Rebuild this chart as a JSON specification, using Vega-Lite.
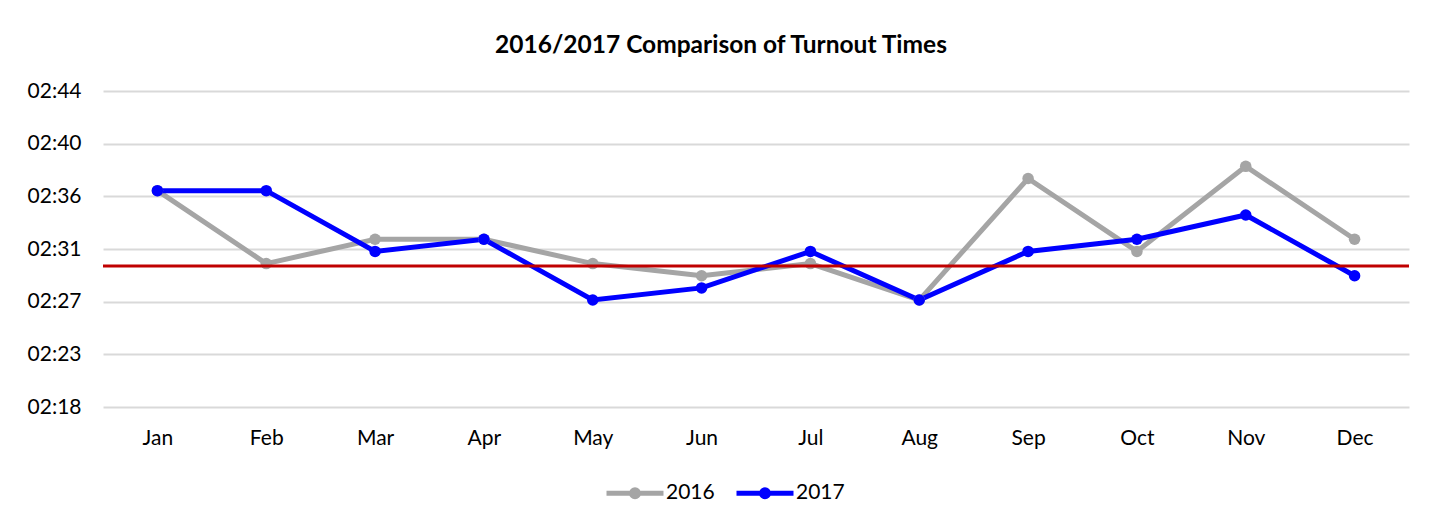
{
  "$schema": "https://vega.github.io/schema/vega-lite/v6.json",
  "autosize": {"type": "none"},
  "width": 1306,
  "height": 316,
  "padding": {"left": 103, "top": 91, "right": 33, "bottom": 120},
  "background": "white",
  "config": {
    "font": "Lato",
    "view": {"stroke": null},
    "axis": {"labelFont": "Lato", "labelFontSize": 21, "labelColor": "#000000", "ticks": false, "domain": false, "gridColor": "#D9D9D9", "gridWidth": 2, "title": null}
  },
  "title": {"text": "2016/2017 Comparison of Turnout Times", "font": "Lato", "fontSize": 24.5, "fontWeight": "bold", "color": "#000000", "anchor": "middle", "offset": 22, "dx": -35},
  "data": {
    "values": [
      {"month": "Jan", "year": "2016", "seconds": 156},
      {"month": "Feb", "year": "2016", "seconds": 150},
      {"month": "Mar", "year": "2016", "seconds": 152},
      {"month": "Apr", "year": "2016", "seconds": 152},
      {"month": "May", "year": "2016", "seconds": 150},
      {"month": "Jun", "year": "2016", "seconds": 149},
      {"month": "Jul", "year": "2016", "seconds": 150},
      {"month": "Aug", "year": "2016", "seconds": 147},
      {"month": "Sep", "year": "2016", "seconds": 157},
      {"month": "Oct", "year": "2016", "seconds": 151},
      {"month": "Nov", "year": "2016", "seconds": 158},
      {"month": "Dec", "year": "2016", "seconds": 152},
      {"month": "Jan", "year": "2017", "seconds": 156},
      {"month": "Feb", "year": "2017", "seconds": 156},
      {"month": "Mar", "year": "2017", "seconds": 151},
      {"month": "Apr", "year": "2017", "seconds": 152},
      {"month": "May", "year": "2017", "seconds": 147},
      {"month": "Jun", "year": "2017", "seconds": 148},
      {"month": "Jul", "year": "2017", "seconds": 151},
      {"month": "Aug", "year": "2017", "seconds": 147},
      {"month": "Sep", "year": "2017", "seconds": 151},
      {"month": "Oct", "year": "2017", "seconds": 152},
      {"month": "Nov", "year": "2017", "seconds": 154},
      {"month": "Dec", "year": "2017", "seconds": 149}
    ]
  },
  "encoding": {
    "x": {
      "field": "month", "type": "ordinal",
      "sort": ["Jan","Feb","Mar","Apr","May","Jun","Jul","Aug","Sep","Oct","Nov","Dec"],
      "scale": {"type": "point", "padding": 0.5},
      "axis": {"labelAngle": 0, "grid": false, "labelPadding": 20}
    },
    "y": {
      "field": "seconds", "type": "quantitative",
      "scale": {"domain": [138.2, 164.2], "zero": false, "nice": false},
      "axis": {
        "values": [138.2, 142.533, 146.867, 151.2, 155.533, 159.867, 164.2],
        "labelExpr": "'0' + floor(round(datum.value)/60) + ':' + (round(datum.value)%60 < 10 ? '0' : '') + (round(datum.value)%60)",
        "labelPadding": 22
      }
    },
    "color": {
      "field": "year", "type": "nominal",
      "scale": {"domain": ["2016", "2017"], "range": ["#A5A5A5", "#0000FF"]},
      "legend": {
        "orient": "none", "legendX": 501, "legendY": 371, "direction": "horizontal", "title": null,
        "symbolType": "M-1,0L1,0M-0.12,0A0.12,0.12,0,1,1,0.12,0A0.12,0.12,0,1,1,-0.12,0Z",
        "symbolSize": 3249, "symbolStrokeWidth": 5,
        "labelFont": "Lato", "labelFontSize": 21, "labelColor": "#000000", "labelOffset": 0, "columnPadding": 11,
        "encode": {"symbols": {"update": {"fill": {"scale": "color", "field": "value"}, "stroke": {"scale": "color", "field": "value"}, "strokeWidth": {"value": 5}, "fillOpacity": {"value": 1}}}}
      }
    }
  },
  "layer": [
    {"mark": {"type": "line", "strokeWidth": 5}},
    {"mark": {"type": "point", "filled": true, "size": 133, "opacity": 1}},
    {
      "data": {"values": [{"target": 149.8}]},
      "mark": {"type": "rule", "color": "#C00000", "strokeWidth": 3},
      "encoding": {"y": {"field": "target", "type": "quantitative"}, "x": null, "color": null}
    }
  ]
}
